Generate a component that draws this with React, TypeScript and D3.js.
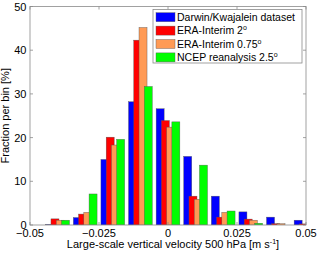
import React from "react";
import * as d3 from "d3";

const bins = [-0.05, -0.04, -0.03, -0.02, -0.01, 0, 0.01, 0.02, 0.03, 0.04, 0.05];
const darwin = [0, 0.1, 1.7, 15.0, 28.2, 26.6, 15.7, 6.6, 3.0, 1.8, 1.1];
const era2 = [0, 1.4, 2.5, 20.1, 42.3, 23.9, 6.6, 1.8, 1.35, 0.3, 0.25];
const era075 = [0, 1.1, 2.9, 18.3, 45.2, 22.4, 5.9, 2.9, 1.1, 0.3, 0];
const ncep = [0, 1.1, 7.1, 19.6, 31.7, 23.6, 13.7, 3.2, 0.4, 0, 0];

const seriesNames = ["Darwin/Kwajalein dataset", "ERA-Interim 2", "ERA-Interim 0.75", "NCEP reanalysis 2.5"];
const seriesSup = ["", "o", "o", "o"];
const seriesColors = ["#0000ff", "#ff0000", "#ff9a55", "#00ff00"];
const seriesData = [darwin, era2, era075, ncep];

const xTicks = [-0.05, -0.025, 0, 0.025, 0.05];
const xTickLabels = ["\u22120.05", "\u22120.025", "0", "0.025", "0.05"];
const yTicks = [0, 10, 20, 30, 40, 50];

export default function App() {
  const W = 320, H = 253;
  const L = 30, R = 306, T = 6.5, B = 225;
  const x = d3.scaleLinear().domain([-0.05, 0.05]).range([L, R]);
  const y = d3.scaleLinear().domain([0, 50]).range([B, T]);
  const step = 0.0019, bw = 0.0029;
  const groupW = 3 * step + bw;
  const font = "Liberation Sans, Arial, sans-serif";
  const axisColor = "#8a8a8a";
  const tl = 3;

  return (
    <svg width={W} height={H} style={{ position: "absolute", left: 0, top: 0 }} fontFamily={font}>
      <defs>
        <clipPath id="plotclip">
          <rect x={L} y={T} width={R - L} height={B - T} />
        </clipPath>
      </defs>
      <rect x={0} y={0} width={W} height={H} fill="#fff" />
      <g clipPath="url(#plotclip)">
        {bins.map((c, i) =>
          seriesData.map((s, k) => {
            const x0 = x(c - groupW / 2 + k * step);
            const x1 = x(c - groupW / 2 + k * step + bw);
            const v = s[i];
            if (v <= 0) return null;
            return (
              <rect key={`${i}-${k}`} x={x0} y={y(v)} width={x1 - x0} height={y(0) - y(v)}
                fill={seriesColors[k]} stroke="#555" strokeWidth={0.4} />
            );
          })
        )}
      </g>
      <rect x={L} y={T} width={R - L} height={B - T} fill="none" stroke={axisColor} strokeWidth={0.8} />
      {xTicks.map((t, i) => (
        <g key={"xt" + i}>
          <line x1={x(t)} x2={x(t)} y1={B} y2={B - tl} stroke={axisColor} strokeWidth={0.8} />
          <line x1={x(t)} x2={x(t)} y1={T} y2={T + tl} stroke={axisColor} strokeWidth={0.8} />
          <text x={x(t)} y={237} fontSize={11} textAnchor="middle" fill="#000">{xTickLabels[i]}</text>
        </g>
      ))}
      {yTicks.map((t, i) => (
        <g key={"yt" + i}>
          <line x1={L} x2={L + tl} y1={y(t)} y2={y(t)} stroke={axisColor} strokeWidth={0.8} />
          <line x1={R} x2={R - tl} y1={y(t)} y2={y(t)} stroke={axisColor} strokeWidth={0.8} />
          <text x={26.5} y={y(t) + 4} fontSize={11} textAnchor="end" fill="#000">{t}</text>
        </g>
      ))}
      <text x={173} y={247.5} fontSize={11} textAnchor="middle" fill="#000">
        Large-scale vertical velocity 500 hPa [m s<tspan fontSize={7} dy={-4}>-1</tspan><tspan dy={4}>]</tspan>
      </text>
      <text transform={`translate(9,${(T + B) / 2}) rotate(-90)`} fontSize={11} textAnchor="middle" fill="#000">
        Fraction per bin [%]
      </text>
      <g>
        <rect x={153} y={9.5} width={149} height={53.5} fill="#fff" stroke={axisColor} strokeWidth={0.8} />
        {seriesNames.map((n, k) => {
          const yy = 12.7 + k * 13.4;
          return (
            <g key={"lg" + k}>
              <rect x={156} y={yy} width={19} height={9} fill={seriesColors[k]} stroke="#555" strokeWidth={0.4} />
              <text x={177} y={yy + 8.3} fontSize={10.5} fill="#000">
                {n}
                {seriesSup[k] ? <tspan fontSize={7} dy={-4}>{seriesSup[k]}</tspan> : null}
              </text>
            </g>
          );
        })}
      </g>
    </svg>
  );
}
